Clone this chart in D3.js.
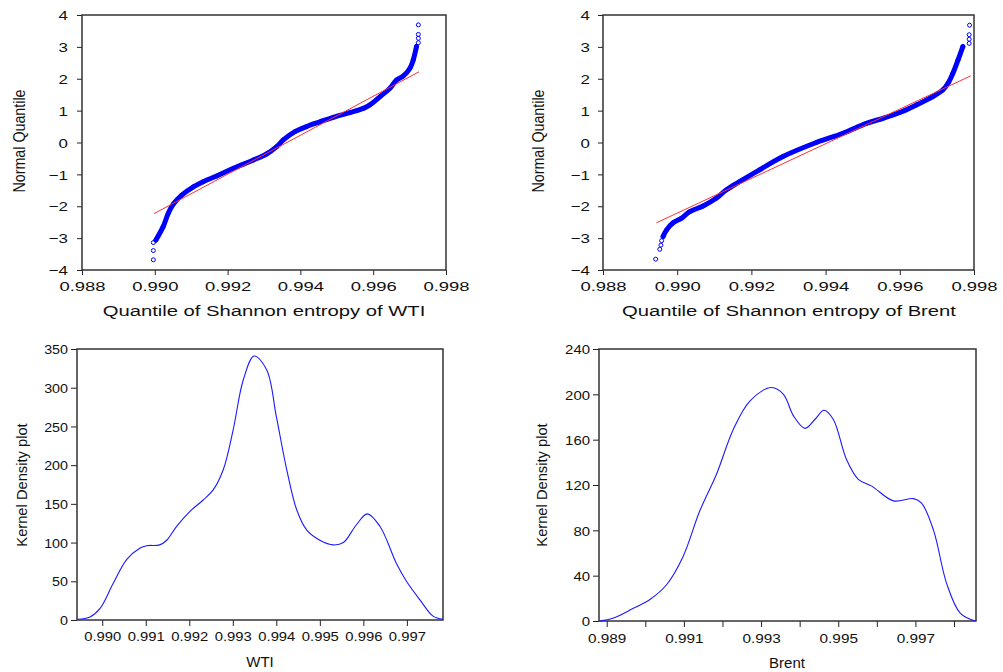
<!DOCTYPE html>
<html>
<head>
<meta charset="utf-8">
<script src="https://cdn.jsdelivr.net/npm/d3@7"></script>
<style>
body { margin: 0; background: #fff; }
svg { display: block; font-family: Arial, "Liberation Sans", sans-serif; }
</style>
</head>
<body>
<svg id="chart" width="1003" height="672"></svg>
<script>
// Q-Q-Daten WTI: [Quantil der Shannon-Entropie, Normalquantil]
const wtiLowTail = [[0.98996, -3.68], [0.98996, -3.39], [0.98996, -3.14]];
const wtiBand = [[0.99003, -3.06], [0.99023, -2.64], [0.99037, -2.22], [0.99051, -1.93], [0.99074, -1.65],
    [0.99106, -1.39], [0.99133, -1.23], [0.9917, -1.05], [0.99216, -0.81], [0.99271, -0.55], [0.99307, -0.36],
    [0.99335, -0.13], [0.99353, 0.08], [0.99385, 0.34], [0.99417, 0.50], [0.99454, 0.65], [0.9949, 0.79],
    [0.99536, 0.94], [0.99573, 1.07], [0.99591, 1.18], [0.99619, 1.44], [0.99646, 1.70], [0.99664, 1.96],
    [0.99683, 2.09], [0.99701, 2.33], [0.9971, 2.59], [0.99719, 3.01]];
const wtiHighTail = [[0.99724, 3.13], [0.99724, 3.27], [0.99724, 3.39], [0.99724, 3.69]];
const wtiFit = [[0.98998, -2.23], [0.99726, 2.22]];

// Q-Q-Daten Brent
const brentLowTail = [[0.98942, -3.66], [0.98953, -3.35], [0.98956, -3.22], [0.98958, -3.08]];
const brentBand = [[0.98962, -2.95], [0.98971, -2.75], [0.98989, -2.52], [0.99011, -2.38], [0.99034, -2.17],
    [0.9907, -1.99], [0.99105, -1.75], [0.99132, -1.49], [0.99168, -1.23], [0.99222, -0.86], [0.99285, -0.44],
    [0.99375, 0.0], [0.99447, 0.29], [0.9951, 0.60], [0.99555, 0.76], [0.996, 0.94], [0.99645, 1.18],
    [0.99689, 1.44], [0.99716, 1.65], [0.9973, 1.86], [0.99743, 2.17], [0.99757, 2.59], [0.9977, 3.01]];
const brentHighTail = [[0.99787, 3.11], [0.99787, 3.24], [0.99787, 3.38], [0.99788, 3.68]];
const brentFit = [[0.98944, -2.52], [0.99791, 2.09]];

// Kerndichte-Schätzungen
const wtiDensity = [[0.98943, 1], [0.98972, 4], [0.98995, 15], [0.99025, 47], [0.99056, 78], [0.99087, 93],
    [0.99102, 96], [0.99132, 97], [0.99148, 103], [0.99171, 121], [0.99201, 140], [0.99232, 155],
    [0.99255, 168], [0.99278, 194], [0.99301, 246], [0.99324, 310], [0.99349, 341], [0.99378, 323],
    [0.994, 263], [0.99424, 194], [0.99447, 142], [0.9947, 116], [0.995, 103], [0.99531, 97], [0.99554, 100],
    [0.99584, 123], [0.99609, 137], [0.99638, 121], [0.99676, 73], [0.99699, 50], [0.9973, 26],
    [0.9976, 5], [0.99783, 1]];
const brentDensity = [[0.98882, 0], [0.98916, 2.4], [0.98968, 11], [0.99012, 19], [0.99055, 32],
    [0.99098, 57], [0.99141, 97], [0.99185, 130], [0.99228, 169], [0.99271, 194], [0.99327, 206],
    [0.99358, 200], [0.99384, 181], [0.99414, 170], [0.9944, 178], [0.99463, 186], [0.99487, 178],
    [0.99522, 142], [0.99552, 125], [0.99587, 119], [0.99643, 106], [0.99695, 108], [0.99716, 104],
    [0.99747, 80], [0.99781, 33], [0.99816, 7], [0.99855, 0]];

// Achsenbeschriftungen
const qqXTicks = [0.988, 0.990, 0.992, 0.994, 0.996, 0.998];
const qqYTicks = [-4, -3, -2, -1, 0, 1, 2, 3, 4];
const wtiDensXTicks = [0.990, 0.991, 0.992, 0.993, 0.994, 0.995, 0.996, 0.997];
const wtiDensYTicks = [0, 50, 100, 150, 200, 250, 300, 350];
const brentDensXTicks = [0.989, 0.990, 0.991, 0.992, 0.993, 0.994, 0.995, 0.996, 0.997, 0.998];
const brentDensXLabels = [0.989, 0.991, 0.993, 0.995, 0.997];
const brentDensYTicks = [0, 40, 80, 120, 160, 200, 240];

const svg = d3.select("#chart");

// Rahmen und Achsen eines Panels zeichnen
function drawAxes(p) {
    const g = svg.append("g");
    const xAxis = d3.axisBottom(p.x).tickValues(p.xTicks).tickSize(p.tick).tickSizeOuter(0)
        .tickFormat(d => p.xLabels.some(v => Math.abs(v - d) < 1e-9) ? d3.format(".3f")(d) : "");
    const gx = g.append("g").attr("transform", "translate(0," + p.y.range()[0] + ")").call(xAxis);
    gx.select(".domain").remove();
    gx.selectAll("line").attr("stroke", "#222");
    gx.selectAll("text")
        .attr("y", p.xLabelY).attr("dy", null)
        .attr("transform", "scale(" + p.xScaleText + ",1)")
        .style("font-size", "13px").attr("fill", "#111");

    const yAxis = d3.axisLeft(p.y).tickValues(p.yTicks).tickSize(p.tick).tickSizeOuter(0);
    const gy = g.append("g").attr("transform", "translate(" + p.x.range()[0] + ",0)").call(yAxis);
    gy.select(".domain").remove();
    gy.selectAll("line").attr("stroke", "#222");
    gy.selectAll("text")
        .attr("x", -p.yLabelOff / p.yScaleText).attr("dy", "0.36em")
        .attr("transform", "scale(" + p.yScaleText + ",1)")
        .style("font-size", "13px").attr("fill", "#111");

    g.append("rect")
        .attr("x", p.x.range()[0]).attr("y", p.y.range()[1])
        .attr("width", p.x.range()[1] - p.x.range()[0])
        .attr("height", p.y.range()[0] - p.y.range()[1])
        .attr("fill", "none").attr("stroke", "#333").attr("stroke-width", 1.5);

    g.append("text")
        .attr("text-anchor", "middle")
        .attr("transform", "translate(" + p.xTitlePos[0] + "," + p.xTitlePos[1] + ") scale(" + p.xTitleScale + ",1)")
        .style("font-size", "15px").attr("fill", "#111")
        .text(p.xTitle);

    g.append("text")
        .attr("text-anchor", "middle").attr("dy", "0.35em")
        .attr("transform", "translate(" + p.yTitlePos[0] + "," + p.yTitlePos[1] + ") rotate(-90) scale(" + p.yTitleScale + ",1)")
        .style("font-size", p.yTitleSize + "px").attr("fill", "#111")
        .text(p.yTitle);
}

// Q-Q-Plot: Punktband, Ausreißer und rote Referenzgerade
function qqPanel(p, lowTail, band, highTail, fit) {
    drawAxes(p);
    const line = d3.line().x(d => p.x(d[0])).y(d => p.y(d[1]));
    const g = svg.append("g");
    g.append("path").datum(band)
        .attr("d", line.curve(d3.curveCatmullRom))
        .attr("fill", "none").attr("stroke", "#0000ff").attr("stroke-width", 5)
        .attr("stroke-linecap", "round");
    g.selectAll("circle").data(lowTail.concat(band, highTail)).join("circle")
        .attr("cx", d => p.x(d[0])).attr("cy", d => p.y(d[1])).attr("r", 2)
        .attr("fill", "none").attr("stroke", "#0000ff").attr("stroke-width", 1);
    g.append("path").datum(fit)
        .attr("d", d3.line().x(d => p.x(d[0])).y(d => p.y(d[1])))
        .attr("fill", "none").attr("stroke", "#ff3030").attr("stroke-width", 1);
}

// Kerndichte-Plot
function densityPanel(p, data) {
    drawAxes(p);
    svg.append("path").datum(data)
        .attr("d", d3.line().x(d => p.x(d[0])).y(d => p.y(d[1])).curve(d3.curveCatmullRom.alpha(0.5)))
        .attr("fill", "none").attr("stroke", "#1a1aff").attr("stroke-width", 1.1);
}

qqPanel({
    x: d3.scaleLinear().domain([0.988, 0.998]).range([82, 446]),
    y: d3.scaleLinear().domain([-4, 4]).range([270, 15]),
    xTicks: qqXTicks, xLabels: qqXTicks, yTicks: qqYTicks, tick: 5,
    xLabelY: 21, xScaleText: 1.42, yLabelOff: 14, yScaleText: 1.3,
    xTitle: "Quantile of Shannon entropy of WTI", xTitlePos: [264, 316], xTitleScale: 1.35,
    yTitle: "Normal Quantile", yTitlePos: [19, 141], yTitleScale: 0.84, yTitleSize: 17
}, wtiLowTail, wtiBand, wtiHighTail, wtiFit);

qqPanel({
    x: d3.scaleLinear().domain([0.988, 0.998]).range([603, 974]),
    y: d3.scaleLinear().domain([-4, 4]).range([270, 15]),
    xTicks: qqXTicks, xLabels: qqXTicks, yTicks: qqYTicks, tick: 5,
    xLabelY: 21, xScaleText: 1.42, yLabelOff: 13, yScaleText: 1.3,
    xTitle: "Quantile of Shannon entropy of Brent", xTitlePos: [789, 316], xTitleScale: 1.35,
    yTitle: "Normal Quantile", yTitlePos: [538, 141], yTitleScale: 0.84, yTitleSize: 17
}, brentLowTail, brentBand, brentHighTail, brentFit);

densityPanel({
    x: d3.scaleLinear().domain([0.98942, 0.99783]).range([77, 443]),
    y: d3.scaleLinear().domain([0, 350]).range([620, 349]),
    xTicks: wtiDensXTicks, xLabels: wtiDensXTicks, yTicks: wtiDensYTicks, tick: 6,
    xLabelY: 21, xScaleText: 1.14, yLabelOff: 9, yScaleText: 1.1,
    xTitle: "WTI", xTitlePos: [260, 667], xTitleScale: 1,
    yTitle: "Kernel Density plot", yTitlePos: [22, 485], yTitleScale: 0.98, yTitleSize: 15
}, wtiDensity);

densityPanel({
    x: d3.scaleLinear().domain([0.9888, 0.99857]).range([599, 976]),
    y: d3.scaleLinear().domain([0, 240]).range([621, 349]),
    xTicks: brentDensXTicks, xLabels: brentDensXLabels, yTicks: brentDensYTicks, tick: 6,
    xLabelY: 22, xScaleText: 1.18, yLabelOff: 9, yScaleText: 1.15,
    xTitle: "Brent", xTitlePos: [787, 668], xTitleScale: 1,
    yTitle: "Kernel Density plot", yTitlePos: [542, 485], yTitleScale: 0.98, yTitleSize: 15
}, brentDensity);
</script>
</body>
</html>
